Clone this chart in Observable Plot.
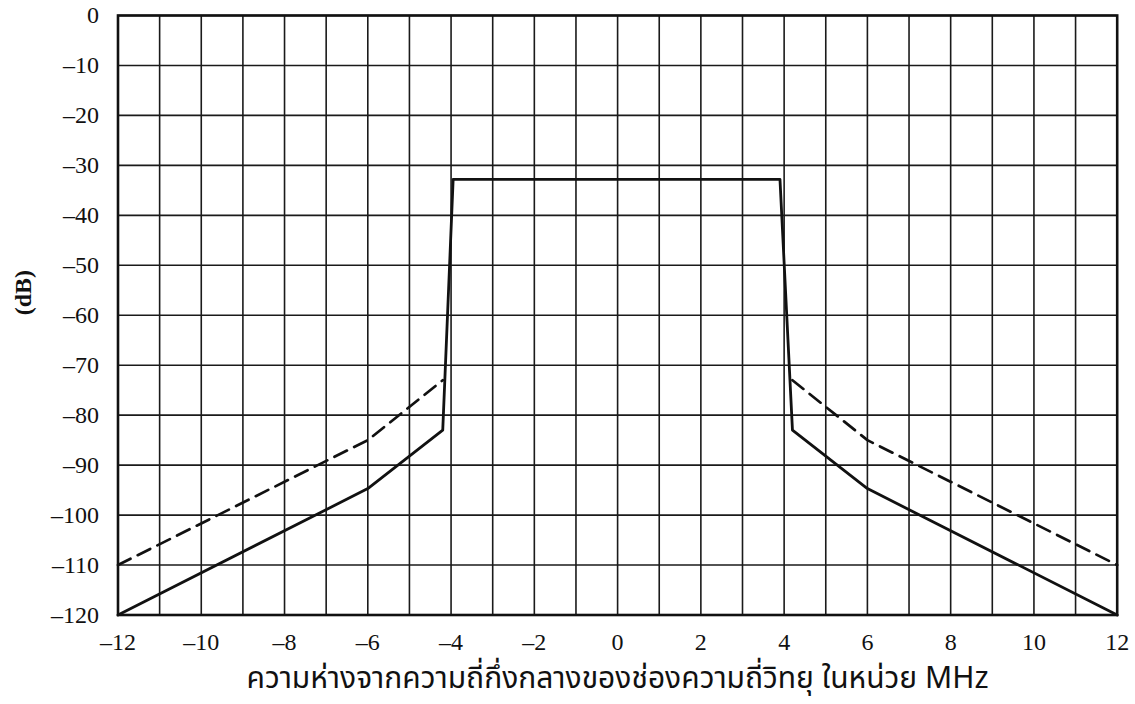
<!DOCTYPE html>
<html><head><meta charset="utf-8">
<script src="https://cdn.jsdelivr.net/npm/d3@7"></script>
<script src="https://cdn.jsdelivr.net/npm/@observablehq/plot@0.6"></script>
<style>
body{margin:0;background:#fff;}
#chart svg{display:block;}
#cap{width:1035px;padding-left:100px;text-align:center;font-family:"Noto Sans Thai","Noto Sans","DejaVu Sans",sans-serif;font-size:30px;line-height:38px;color:#111;margin-top:0;white-space:nowrap;}
</style>
</head><body>
<div id="chart"></div>
<div id="cap">ความห่างจากความถี่กึ่งกลางของช่องความถี่วิทยุ ในหน่วย MHz</div>
<script>
const solidX = [-12, -6, -4.2, -3.95, 3.9, 4.2, 6, 12];
const solidY = [-120, -94.7, -83, -32.8, -32.8, -83, -94.7, -120];
const dashLeftX = [-12, -6, -4.2];
const dashLeftY = [-110, -85, -73];
const dashRightX = [4.2, 6, 12];
const dashRightY = [-73, -85, -110];
const xTicks = [-12, -10, -8, -6, -4, -2, 0, 2, 4, 6, 8, 10, 12];
const yTicks = [0, -10, -20, -30, -40, -50, -60, -70, -80, -90, -100, -110, -120];
const xGrid = d3.range(-12, 13, 1);
const yLabel = "(dB)";

const solid = solidX.map((x, i) => ({x, y: solidY[i]}));
const dashL = dashLeftX.map((x, i) => ({x, y: dashLeftY[i]}));
const dashR = dashRightX.map((x, i) => ({x, y: dashRightY[i]}));
const serif = "'Liberation Serif','Times New Roman',serif";
const fmt = d => d < 0 ? "\u2013" + Math.abs(d) : String(d);

const chart = Plot.plot({
  width: 1135,
  height: 660,
  marginTop: 15,
  marginBottom: 45.5,
  marginLeft: 117.5,
  marginRight: 18.3,
  x: {domain: [-12, 12]},
  y: {domain: [-120, 0]},
  style: {fontFamily: serif, color: "#111", fontSize: "24px"},
  marks: [
    Plot.gridX(xGrid, {stroke: "#1a1a1a", strokeOpacity: 1, strokeWidth: 1.6}),
    Plot.gridY(yTicks, {stroke: "#1a1a1a", strokeOpacity: 1, strokeWidth: 1.6}),
    Plot.axisX(xTicks, {tickSize: 0, tickPadding: 18, fontSize: 24, label: null, fontFamily: serif, tickFormat: fmt}),
    Plot.axisY(yTicks, {tickSize: 0, tickPadding: 19, fontSize: 24, label: null, fontFamily: serif, tickFormat: fmt}),
    Plot.text([yLabel], {frameAnchor: "left", dx: -95, rotate: -90, fontWeight: "bold", fontSize: 24, fontFamily: serif, fill: "#111"}),
    Plot.line(dashL, {x: "x", y: "y", stroke: "#111", strokeWidth: 2.7, strokeDasharray: "14,8"}),
    Plot.line(dashR, {x: "x", y: "y", stroke: "#111", strokeWidth: 2.7, strokeDasharray: "14,8"}),
    Plot.line(solid, {x: "x", y: "y", stroke: "#111", strokeWidth: 2.8}),
    Plot.frame({stroke: "#111", strokeWidth: 2.6})
  ]
});
document.getElementById("chart").appendChild(chart);
</script>
</body></html>
